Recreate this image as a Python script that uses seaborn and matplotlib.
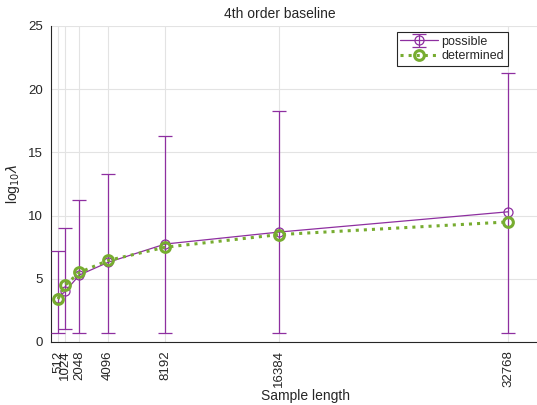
import numpy as np
import pandas as pd
import matplotlib
matplotlib.use("Agg")
import matplotlib.pyplot as plt
import seaborn as sns
from matplotlib.legend_handler import HandlerTuple

sample_length = [512, 1024, 2048, 4096, 8192, 16384, 32768]
possible = [3.5, 4.0, 5.3, 6.3, 7.75, 8.7, 10.3]
possible_upper = [7.2, 9.0, 11.2, 13.3, 16.3, 18.3, 21.3]
possible_lower = [0.7, 1.0, 0.7, 0.7, 0.7, 0.7, 0.7]
determined = [3.4, 4.5, 5.5, 6.45, 7.5, 8.5, 9.5]
xtick_labels = [str(v) for v in sample_length]
yticks = [0, 5, 10, 15, 20, 25]

purple = "#8e2fa0"
green = "#77ac30"

sns.set_style("white")
plt.rcParams["font.family"] = ["Liberation Sans", "DejaVu Sans"]

fig = plt.figure(figsize=(5.37, 4.05), dpi=100)
W, H = 537, 405
left_px, right_px, top_px, bottom_px = 51, 560, 26, 342
ax = fig.add_axes([left_px / W, 1 - bottom_px / H, (right_px - left_px) / W, (bottom_px - top_px) / H])

x0_px, x1_px = 58, 508
scale = (x1_px - x0_px) / (sample_length[-1] - sample_length[0])
xmin = sample_length[0] - (x0_px - left_px) / scale
xmax = sample_length[0] + (right_px - x0_px) / scale

df = pd.DataFrame({"x": sample_length, "possible": possible, "determined": determined})

ax.grid(True, color="#e3e3e3", linewidth=0.8)
ax.set_axisbelow(True)

yerr = np.array([np.array(possible) - np.array(possible_lower),
                 np.array(possible_upper) - np.array(possible)])
eb = ax.errorbar(df["x"], df["possible"], yerr=yerr, fmt="none", ecolor=purple,
                 elinewidth=0.9, capsize=4.7, capthick=0.9, zorder=3)

sns.lineplot(data=df, x="x", y="possible", ax=ax, color=purple, linewidth=0.9,
             marker="o", markersize=6.5, markerfacecolor="none",
             markeredgecolor=purple, markeredgewidth=0.9, legend=False, zorder=4)
sns.lineplot(data=df, x="x", y="determined", ax=ax, color=green, linewidth=2.2,
             linestyle=":", marker="o", markersize=7, markerfacecolor="none",
             markeredgecolor=green, markeredgewidth=2.2, legend=False, zorder=5)

lines = [l for l in ax.lines]
lp = lines[-2]
ld = lines[-1]

ax.set_xlim(xmin, xmax)
ax.set_ylim(0, 25)
ax.set_xticks(sample_length)
ax.set_xticklabels(xtick_labels, rotation=90)
ax.set_yticks(yticks)
ax.tick_params(axis="both", direction="out", length=4, width=0.8, colors="#262626",
               labelsize=9.5, pad=2)
for s in ["top", "right"]:
    ax.spines[s].set_visible(False)
for s in ["left", "bottom"]:
    ax.spines[s].set_color("#262626")
    ax.spines[s].set_linewidth(0.8)

ax.set_xlabel("Sample length", fontsize=10, color="#262626", labelpad=1)
ax.set_ylabel(r"log$_{10}\lambda$", fontsize=10, color="#262626", labelpad=4)
fig.text((left_px + 508) / 2 / W, 1 - 14 / H, "4th order baseline", ha="center", va="center",
         fontsize=10, color="#262626")

leg = ax.legend([(lp, eb), ld], ["possible", "determined"],
                handler_map={tuple: HandlerTuple(ndivide=1, pad=0)},
                loc="upper right", bbox_to_anchor=(508 / W, 1 - 32 / H),
                bbox_transform=fig.transFigure, fontsize=9, frameon=True,
                fancybox=False, edgecolor="#262626", framealpha=1,
                borderpad=0.3, labelspacing=0.2, handlelength=3.0, handletextpad=0.3,
                borderaxespad=0)
leg.get_frame().set_linewidth(0.8)

fig.savefig("out.png", dpi=100)
